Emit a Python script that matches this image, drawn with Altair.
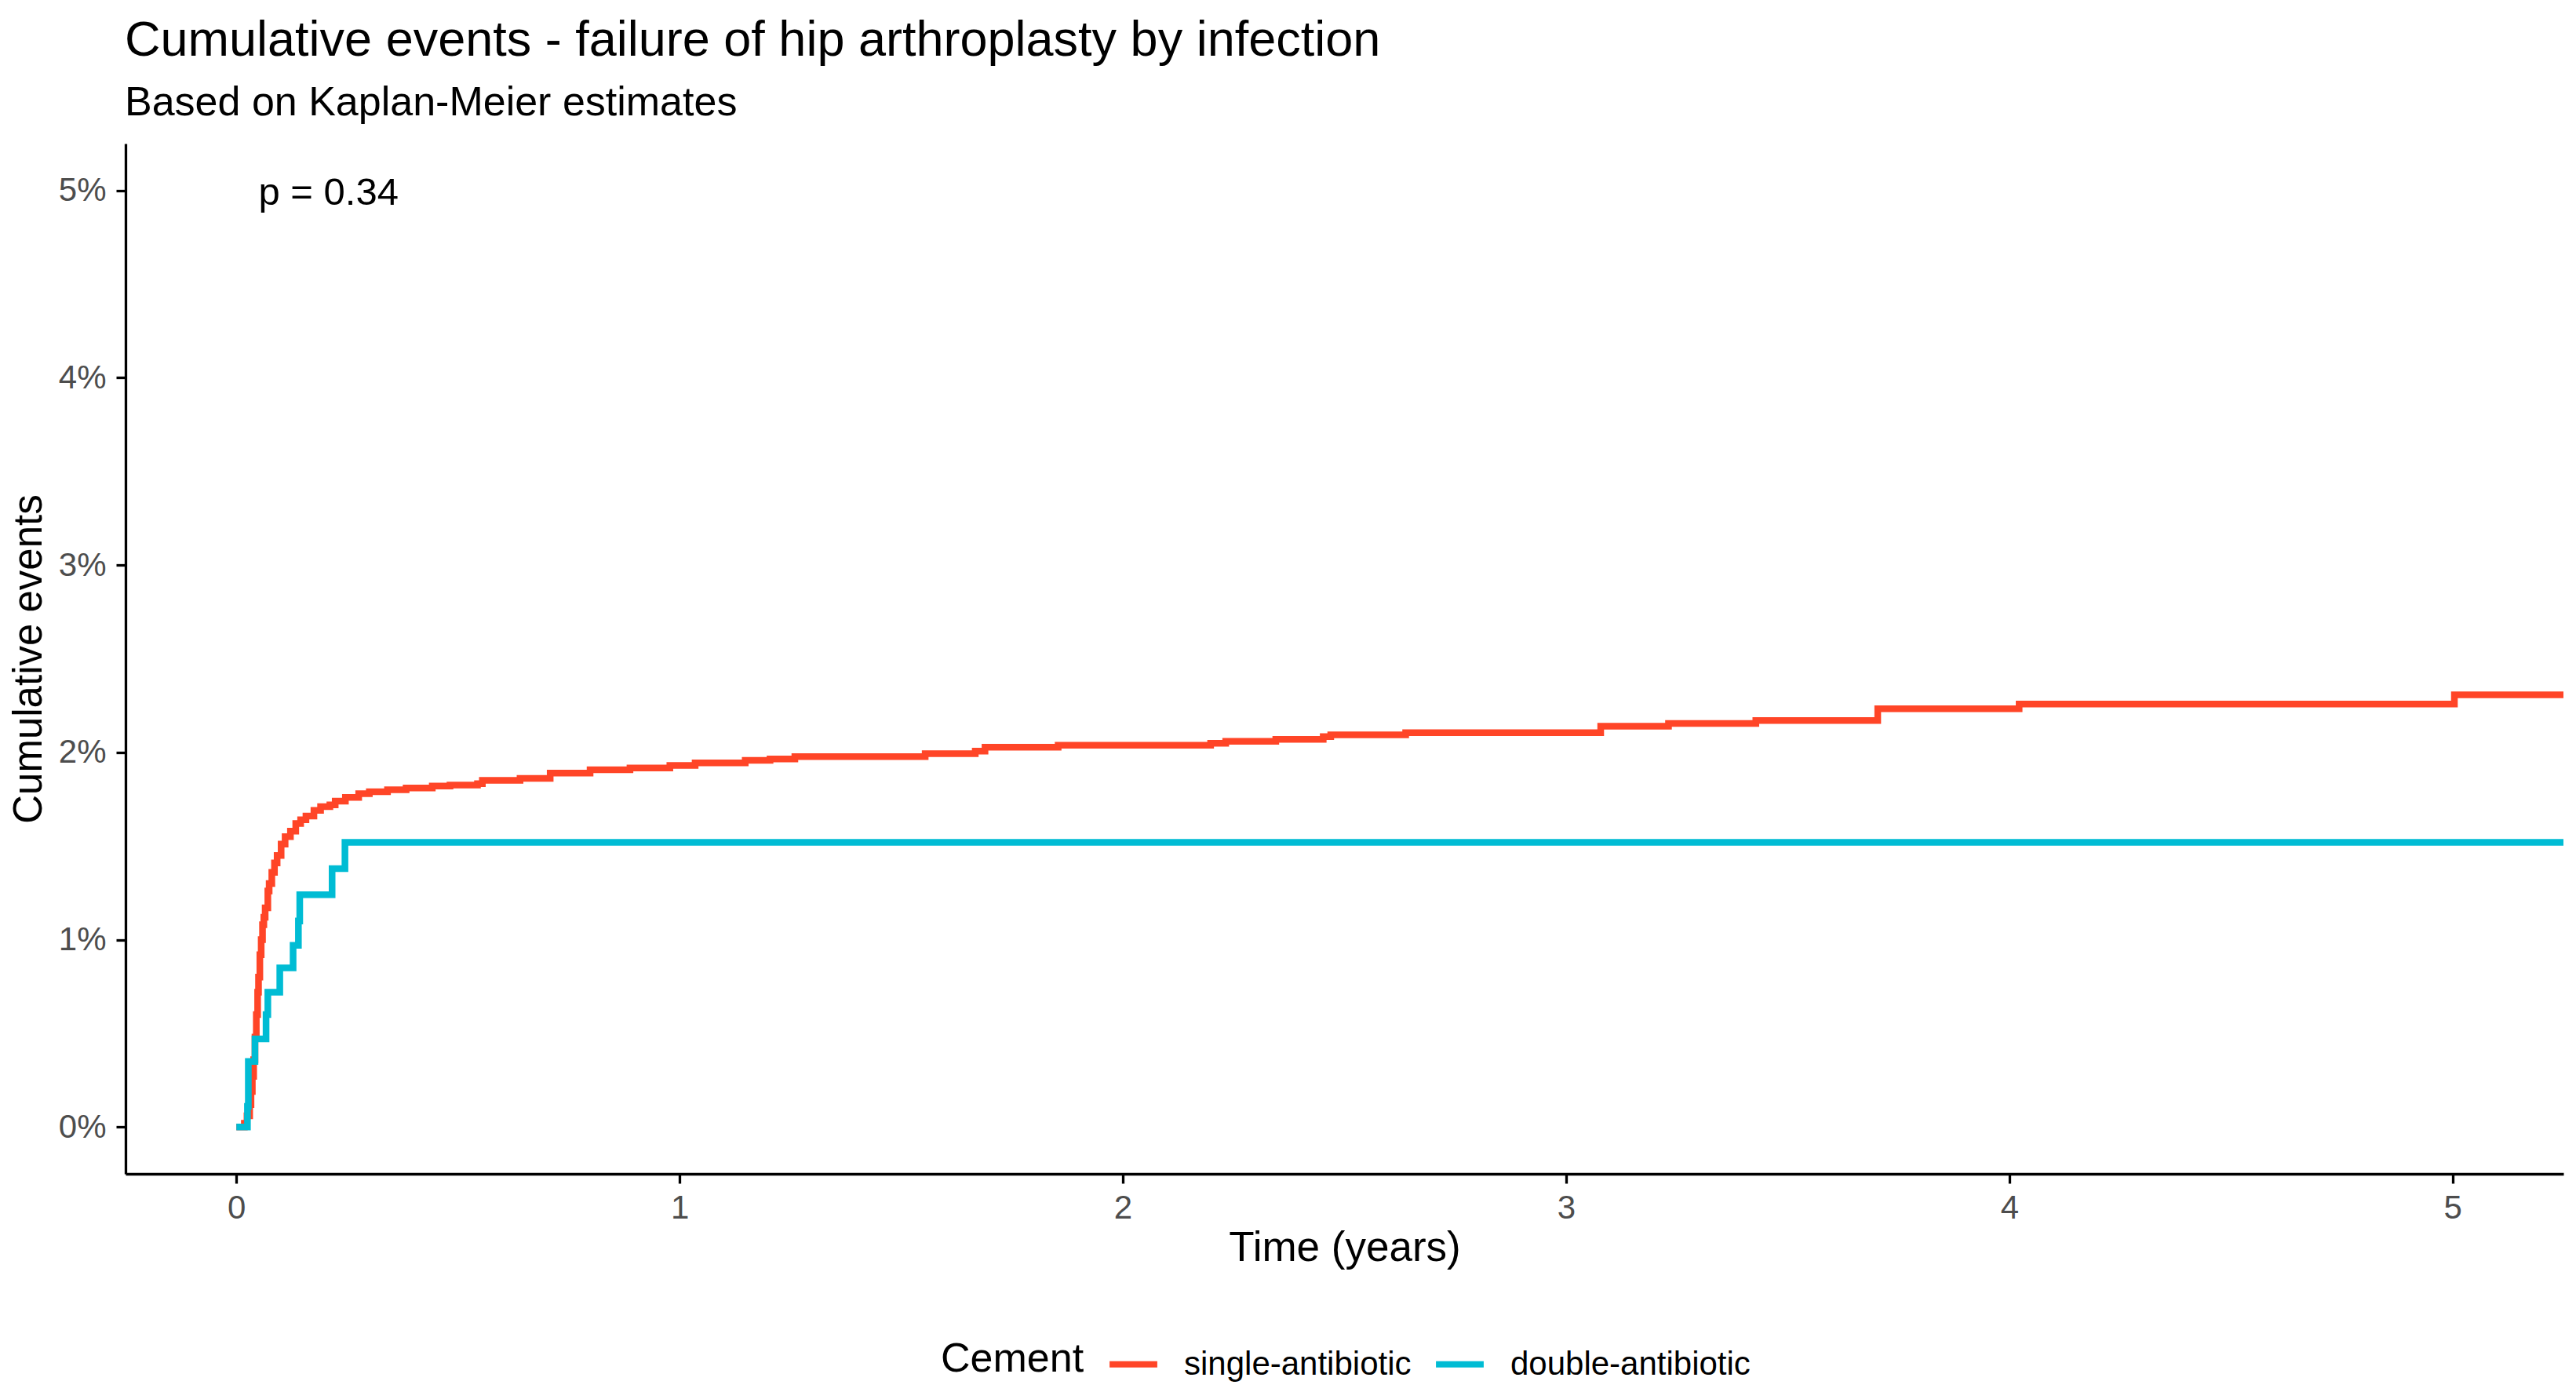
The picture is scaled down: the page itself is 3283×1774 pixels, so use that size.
import altair as alt
import pandas as pd

# ---- data (time in years, cumulative events in %) ----
red_t = [0.000, 0.018, 0.024, 0.030, 0.033, 0.036, 0.039, 0.042, 0.045, 0.048,
         0.050, 0.053, 0.056, 0.059, 0.062, 0.065, 0.071, 0.074, 0.080, 0.086,
         0.092, 0.101, 0.110, 0.122, 0.134, 0.145, 0.157, 0.175, 0.190, 0.211,
         0.223, 0.246, 0.276, 0.300, 0.341, 0.383, 0.442, 0.482, 0.544, 0.555,
         0.640, 0.708, 0.798, 0.888, 0.978, 1.035, 1.148, 1.204, 1.260, 1.554,
         1.667, 1.689, 1.854, 2.198, 2.232, 2.345, 2.452, 2.469, 2.638, 3.078,
         3.231, 3.428, 3.703, 4.022, 5.004, 5.300]
red_v = [0.00, 0.02, 0.06, 0.12, 0.19, 0.27, 0.36, 0.48, 0.60, 0.72,
         0.80, 0.92, 1.00, 1.08, 1.12, 1.17, 1.26, 1.30, 1.36, 1.41,
         1.45, 1.51, 1.55, 1.58, 1.62, 1.64, 1.66, 1.69, 1.71, 1.72,
         1.74, 1.76, 1.78, 1.79, 1.80, 1.81, 1.82, 1.826, 1.833, 1.851,
         1.861, 1.889, 1.907, 1.917, 1.930, 1.944, 1.958, 1.965, 1.977, 1.993,
         2.007, 2.028, 2.038, 2.049, 2.059, 2.070, 2.084, 2.094, 2.105, 2.140,
         2.154, 2.170, 2.233, 2.258, 2.307, 2.307]

blue_t = [0.000, 0.025, 0.027, 0.042, 0.067, 0.071, 0.098, 0.128, 0.140, 0.143,
          0.216, 0.245, 5.300]
blue_v = [0.00, 0.11, 0.35, 0.47, 0.60, 0.72, 0.85, 0.97, 1.10, 1.24,
          1.38, 1.52, 1.52]

groups = ["single-antibiotic", "double-antibiotic"]
colors = ["#FF4527", "#00BCD4"]

x_ticks = [0, 1, 2, 3, 4, 5]
y_ticks = [0, 1, 2, 3, 4, 5]

p_label = ["p = 0.34"]
p_t = [0.05]
p_v = [5.0]

title_text = "Cumulative events - failure of hip arthroplasty by infection"
subtitle_text = "Based on Kaplan-Meier estimates"

FONT = "Liberation Sans, Arial, Helvetica, sans-serif"

df = pd.DataFrame({
    "t": red_t + blue_t,
    "v": red_v + blue_v,
    "Cement": [groups[0]] * len(red_t) + [groups[1]] * len(blue_t),
})
ann = pd.DataFrame({"t": p_t, "v": p_v, "label": p_label})

W, H = 3107, 1313

x_enc = alt.X(
    "t:Q",
    scale=alt.Scale(domain=[-0.25, 5.25], nice=False, zero=False),
    axis=alt.Axis(
        values=x_ticks, format="d", title="Time (years)",
        titleX=W / 2, titleY=110, titleAlign="center", titleBaseline="alphabetic",
        labelBaseline="alphabetic", labelPadding=44,
    ),
)
y_enc = alt.Y(
    "v:Q",
    scale=alt.Scale(domain=[-0.25, 5.25], nice=False, zero=False),
    axis=alt.Axis(
        values=y_ticks, labelExpr="datum.value + '%'", title="Cumulative events",
        titleX=-123, titleY=H / 2, titleAngle=270, titleAlign="center",
        titleBaseline="middle", titleFontSize=51, labelPadding=13,
    ),
)
color_enc = alt.Color(
    "Cement:N",
    scale=alt.Scale(domain=groups, range=colors),
    legend=alt.Legend(
        orient="none", legendX=1039, legendY=1521, direction="horizontal",
        title="Cement", titleOrient="left", titleFontSize=52, titleFont=FONT,
        titleColor="black", titleFontWeight="normal", titlePadding=28,
        titleLimit=2000,
        labelFontSize=42, labelFont=FONT, labelColor="black", labelOffset=30,
        labelLimit=2000, columnPadding=15, symbolType="stroke", symbolSize=3700,
        symbolStrokeWidth=8, padding=0, offset=0,
    ),
)

base = alt.Chart(df)
red = base.transform_filter(alt.datum.Cement == groups[0]).mark_line(
    interpolate="step-after", strokeWidth=8.5, clip=True
).encode(x=x_enc, y=y_enc, color=color_enc)
blue = base.transform_filter(alt.datum.Cement == groups[1]).mark_line(
    interpolate="step-after", strokeWidth=8.5, clip=True
).encode(x=x_enc, y=y_enc, color=color_enc)

ptext = alt.Chart(ann).mark_text(
    align="left", baseline="middle", fontSize=49, font=FONT, color="black", dy=3
).encode(x="t:Q", y="v:Q", text="label:N")

chart = alt.layer(red, blue, ptext).properties(
    width=W, height=H,
    autosize=alt.AutoSizeParams(type="none"),
    padding={"left": 152, "top": 175, "right": 8, "bottom": 270},
    background="white",
    title=alt.TitleParams(
        text=title_text, subtitle=subtitle_text, anchor="start", frame="group",
        fontSize=63, subtitleFontSize=52, font=FONT, subtitleFont=FONT,
        color="black", subtitleColor="black", fontWeight="normal",
        offset=26, subtitlePadding=22, dx=-1,
    ),
).configure_axis(
    grid=False, domainColor="black", domainWidth=3.3, tickColor="black",
    tickWidth=3.3, tickSize=12, labelFont=FONT, labelFontSize=42,
    labelColor="#4D4D4D", titleFont=FONT, titleFontSize=53,
    titleFontWeight="normal", titleColor="black",
).configure_view(strokeWidth=0)

chart.save("out.html", embed_options={"renderer": "svg", "actions": False})
